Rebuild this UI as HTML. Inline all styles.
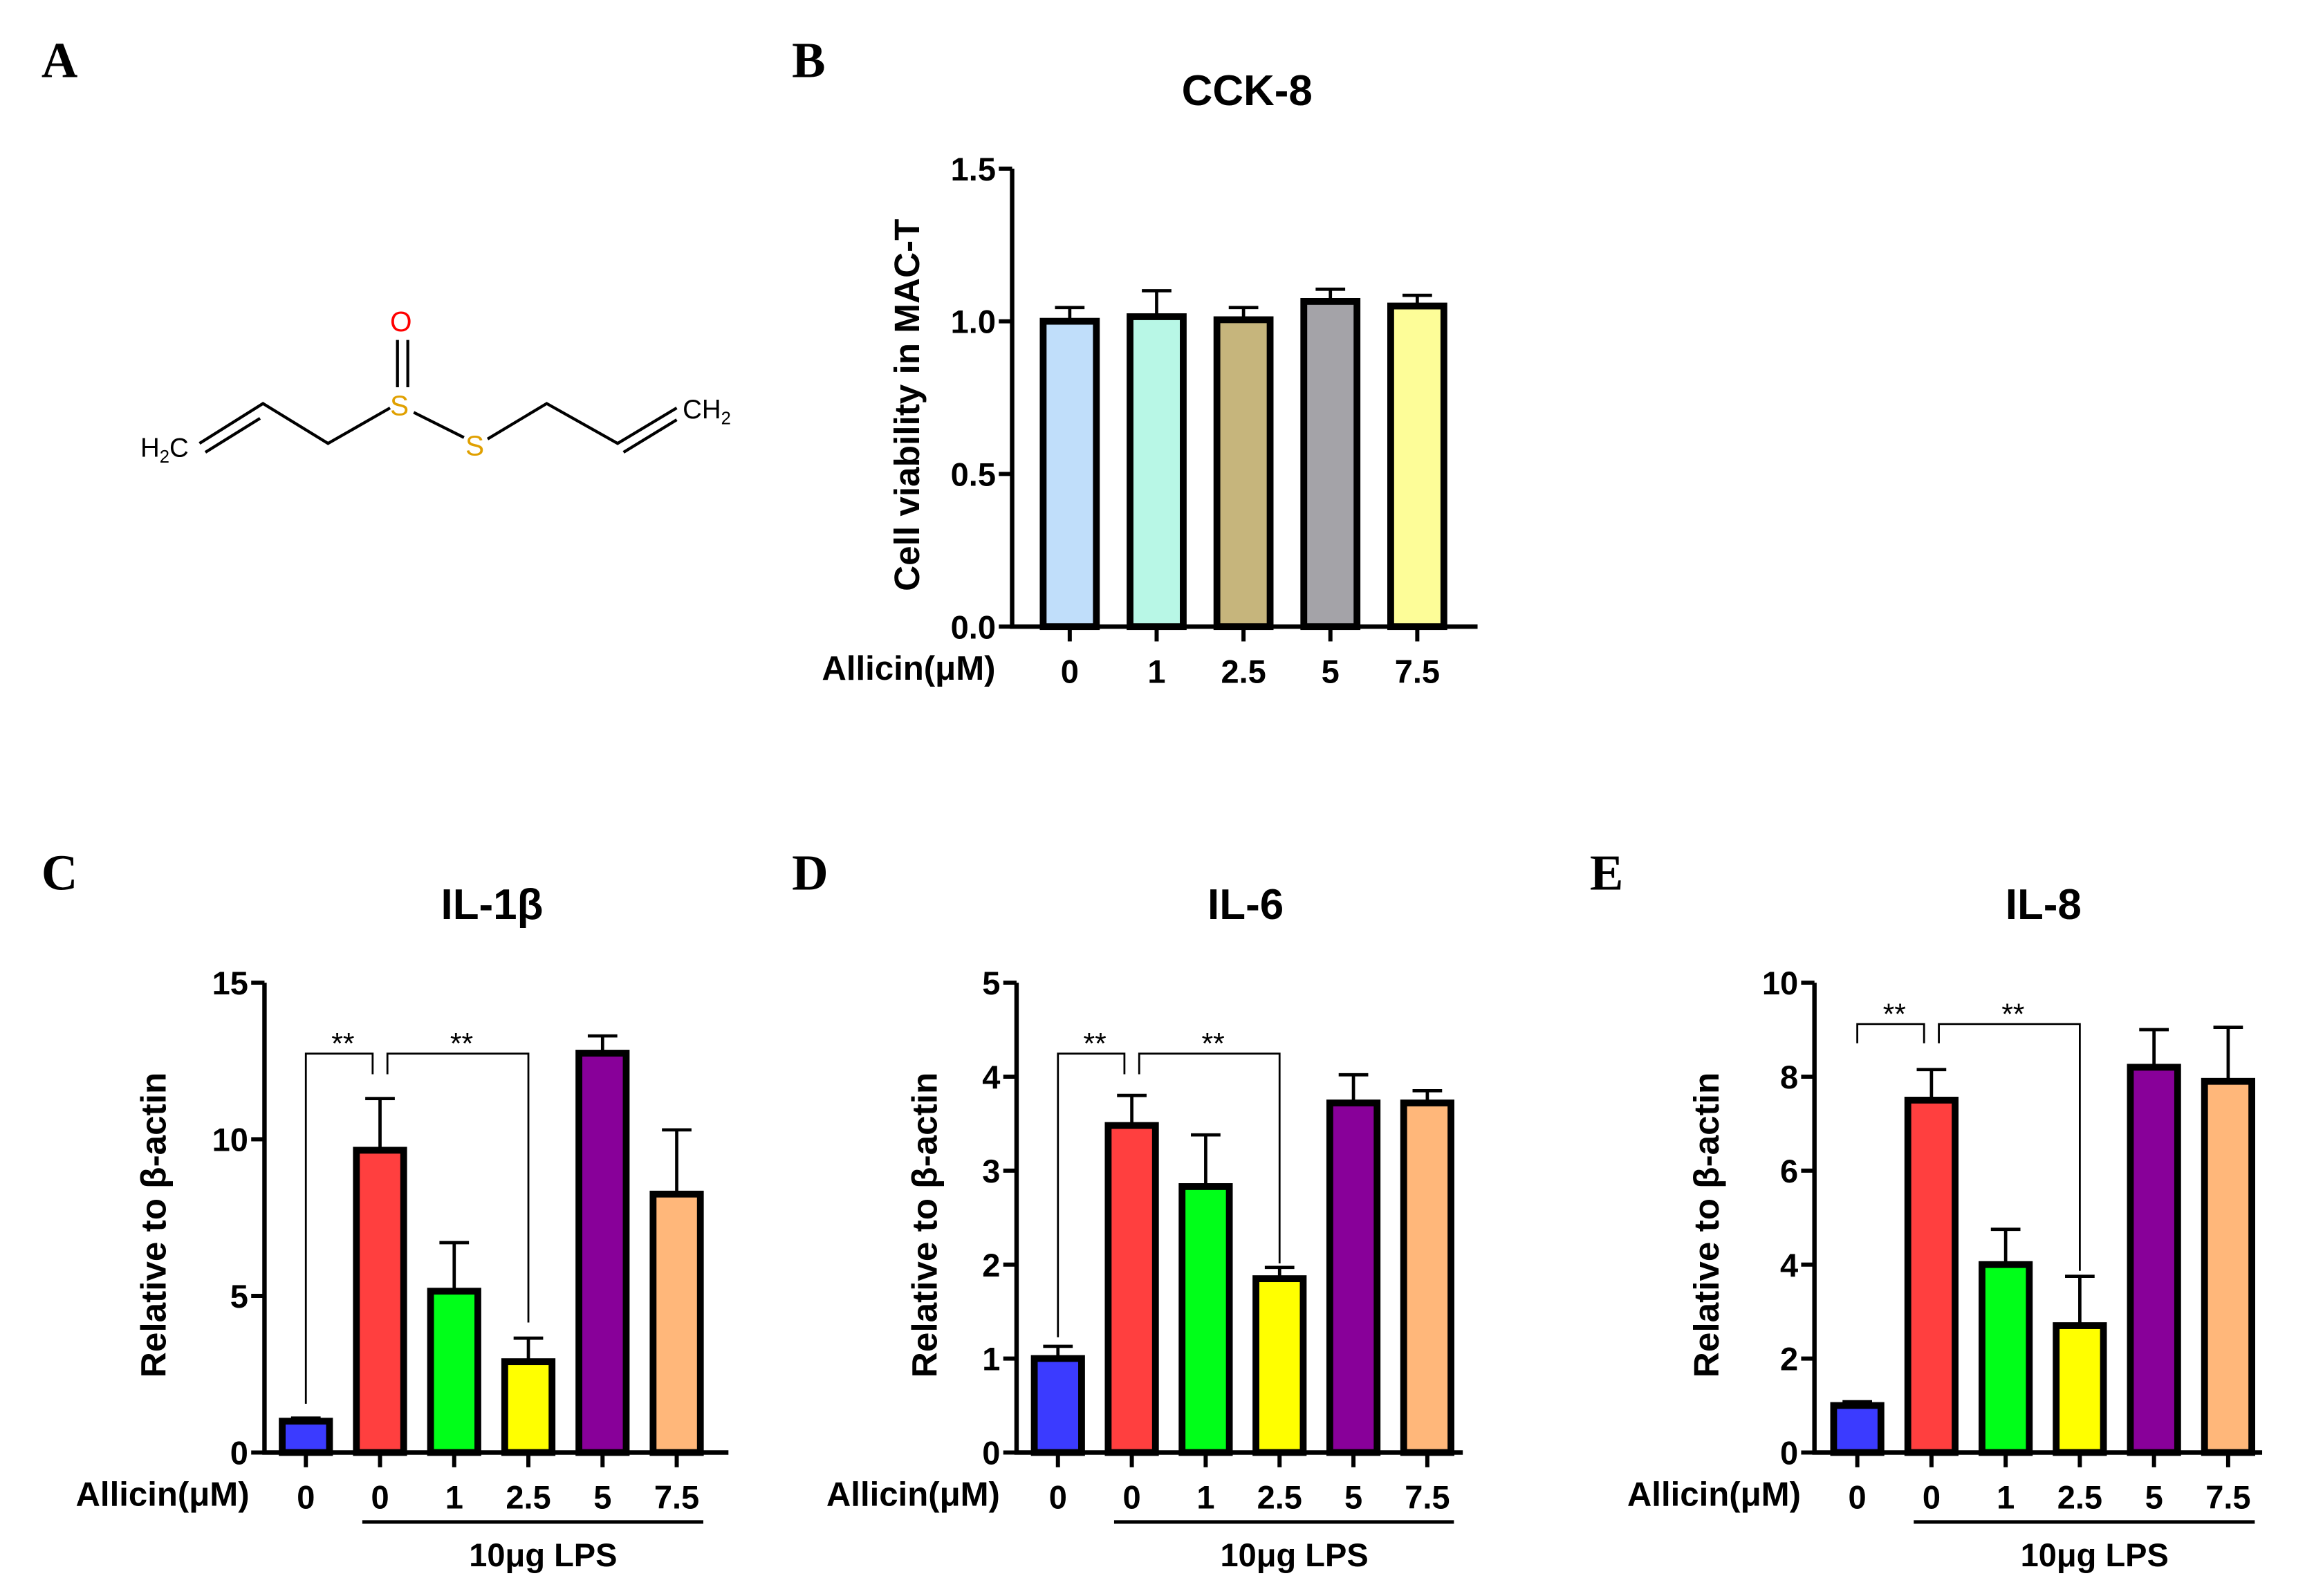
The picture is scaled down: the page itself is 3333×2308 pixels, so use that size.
<!DOCTYPE html>
<html><head><meta charset="utf-8">
<style>
html,body{margin:0;padding:0;background:#fff;}
svg{display:block;}
text{font-family:"Liberation Sans",Arial,sans-serif;font-weight:bold;fill:#000;}
.lbl{font-family:"Liberation Serif",serif;font-size:34px;}
</style></head>
<body>
<svg id="fig" width="3333" height="2308" viewBox="0 0 1560 1080" xmlns="http://www.w3.org/2000/svg">
<text class="lbl" x="28" y="52">A</text>
<text class="lbl" x="536" y="52">B</text>
<text class="lbl" x="28" y="602">C</text>
<text class="lbl" x="536" y="602">D</text>
<text class="lbl" x="1076" y="602">E</text>
<g id="molecule" stroke="#000" stroke-width="2" fill="none">
  <polyline points="135,300 178,273 222,300 264,276"/>
  <line x1="139" y1="306" x2="176" y2="283"/>
  <line x1="280" y1="279" x2="314" y2="296"/>
  <polyline points="330,297 370,273 418,300 458,276"/>
  <line x1="422" y1="306" x2="458" y2="284"/>
  <line x1="269" y1="230" x2="269" y2="262"/>
  <line x1="276" y1="230" x2="276" y2="262"/>
</g>
<text x="95" y="309" style="font-weight:normal;font-size:18px">H<tspan font-size="12" dy="4">2</tspan><tspan dy="-4">C</tspan></text>
<text x="264" y="281" style="font-weight:normal;font-size:19px;fill:#e0a000">S</text>
<text x="315" y="308" style="font-weight:normal;font-size:19px;fill:#e0a000">S</text>
<text x="264" y="224" style="font-weight:normal;font-size:19px;fill:#ff0000">O</text>
<text x="462" y="283" style="font-weight:normal;font-size:18px">CH<tspan font-size="12" dy="4">2</tspan></text>
</svg>
<script>
// Panel B: CCK-8
const bCategories = ["0","1","2.5","5","7.5"];
const bValues = [1.0, 1.015, 1.005, 1.065, 1.05];
const bErrors = [1.045, 1.10, 1.045, 1.105, 1.085];
const bTicks = [0, 0.5, 1.0, 1.5];
const bTickLabels = ["0.0","0.5","1.0","1.5"];
const bColors = ["#c0defa","#b8f7e6","#c6b57c","#a4a3a8","#fdfd98"];
// Panel C: IL-1β
const cCategories = ["0","0","1","2.5","5","7.5"];
const cValues = [1.0, 9.65, 5.15, 2.9, 12.75, 8.25];
const cErrors = [1.1, 11.3, 6.7, 3.65, 13.3, 10.3];
const cTicks = [0,5,10,15];
const cTickLabels = ["0","5","10","15"];
// Panel D: IL-6
const dCategories = ["0","0","1","2.5","5","7.5"];
const dValues = [1.0, 3.48, 2.83, 1.85, 3.72, 3.72];
const dErrors = [1.13, 3.8, 3.38, 1.97, 4.02, 3.85];
const dTicks = [0,1,2,3,4,5];
const dTickLabels = ["0","1","2","3","4","5"];
// Panel E: IL-8
const eCategories = ["0","0","1","2.5","5","7.5"];
const eValues = [1.0, 7.5, 4.0, 2.7, 8.2, 7.9];
const eErrors = [1.08, 8.15, 4.75, 3.75, 9.0, 9.05];
const eTicks = [0,2,4,6,8,10];
const eTickLabels = ["0","2","4","6","8","10"];
const lpsColors = ["#3b3bff","#ff3f3f","#00ff19","#ffff00","#880099","#ffb77a"];

const NS="http://www.w3.org/2000/svg";
const svg=document.getElementById('fig');
function mk(tag,attrs,parent,txt){const e=document.createElementNS(NS,tag);for(const k in attrs)e.setAttribute(k,attrs[k]);if(txt!==undefined)e.textContent=txt;(parent||svg).appendChild(e);return e;}

function panel(o){
  const g=mk('g',{});
  
  
  const yMax=o.ticks[o.ticks.length-1];
  const y=v=>o.y0-(v/yMax)*(o.y0-o.y1);
  const x=i=>o.x0+i*o.step;
  const t=mk('text',{x:o.titleX,y:o.y1-43,'text-anchor':'middle','font-size':29},g,o.title);
  
  
  o.values.forEach((v,i)=>{
    const cx=x(i);
    const r=mk('rect',{x:cx-o.bw/2,y:y(v),width:o.bw,height:o.y0-y(v),fill:o.colors[i],stroke:'#000','stroke-width':4.6},g);
    
    
    const eb=mk('path',{d:`M${cx},${y(v)}V${y(o.errors[i])}M${cx-10},${y(o.errors[i])}H${cx+10}`,stroke:'#000','stroke-width':2.2,fill:'none'},g);
    
    
    mk('line',{x1:cx,x2:cx,y1:o.y0,y2:o.y0+10,stroke:'#000','stroke-width':2.8},g);
    const tl=mk('text',{x:cx,y:o.y0+38,'text-anchor':'middle','font-size':22},g,o.cats[i]);
    
    
  });
  const ax=mk('path',{d:`M${o.ax},${o.y1}V${o.y0}H${o.xEnd}`,stroke:'#000','stroke-width':3,fill:'none'},g);
  
  
  o.ticks.forEach((tv,i)=>{
    mk('line',{x1:o.ax-9,x2:o.ax,y1:y(tv),y2:y(tv),stroke:'#000','stroke-width':2.8},g);
    const yl=mk('text',{x:o.ax-11,y:y(tv)+8,'text-anchor':'end','font-size':22},g,o.tickLabels[i]);
    
    
  });
  const yt=mk('text',{x:0,y:0,'text-anchor':'middle','font-size':24,transform:`translate(${o.ylx},${(o.y0+o.y1)/2+5}) rotate(-90)`},g,o.ylabel);
  
  
  const al=mk('text',{x:o.allX,y:o.y0+36,'text-anchor':'middle','font-size':23},g,'Allicin(μM)');
  
  
  if(o.lps){
    const ul=mk('line',{x1:x(1)-12,x2:x(5)+18,y1:o.y0+47,y2:o.y0+47,stroke:'#000','stroke-width':2.4},g);
    
    
    const lt=mk('text',{x:(x(1)+x(5))/2+10,y:o.y0+77,'text-anchor':'middle','font-size':22},g,'10μg LPS');
    
    
    const s=o.sig;
    const b1=mk('path',{d:`M${x(0)},${s.l1}V${s.top1}H${x(1)-5}V${s.r1}`,stroke:'#000','stroke-width':1.3,fill:'none'},g);
    
    
    const b2=mk('path',{d:`M${x(1)+5},${s.l2}V${s.top2}H${x(3)}V${s.r2}`,stroke:'#000','stroke-width':1.3,fill:'none'},g);
    
    
    const s1=mk('text',{x:(x(0)+x(1))/2,y:s.top1,'text-anchor':'middle','font-size':20,style:'font-weight:normal'},g,'**');
    
    
    const s2=mk('text',{x:(x(1)+x(3))/2+5,y:s.top2,'text-anchor':'middle','font-size':20,style:'font-weight:normal'},g,'**');
    
    
  }
}
panel({name:'cck8',title:'CCK-8',titleX:844,x0:724,step:58.8,bw:36,y0:424,y1:114,ax:685,xEnd:1000,ticks:bTicks,tickLabels:bTickLabels,values:bValues,errors:bErrors,cats:bCategories,colors:bColors,ylabel:'Cell viability in MAC-T',ylx:622,allX:615,lps:false});
panel({name:'il1b',title:'IL-1β',titleX:333,x0:207,step:50.2,bw:32,y0:983,y1:665,ax:179,xEnd:493,ticks:cTicks,tickLabels:cTickLabels,values:cValues,errors:cErrors,cats:cCategories,colors:lpsColors,ylabel:'Relative to β-actin',ylx:112,allX:110,lps:true,sig:{top1:713,l1:950,r1:727,top2:713,l2:727,r2:895}});
panel({name:'il6',title:'IL-6',titleX:843,x0:716,step:50,bw:32,y0:983,y1:665,ax:688,xEnd:990,ticks:dTicks,tickLabels:dTickLabels,values:dValues,errors:dErrors,cats:dCategories,colors:lpsColors,ylabel:'Relative to β-actin',ylx:634,allX:618,lps:true,sig:{top1:713,l1:905,r1:727,top2:713,l2:727,r2:855}});
panel({name:'il8',title:'IL-8',titleX:1383,x0:1257,step:50.2,bw:32,y0:983,y1:665,ax:1228,xEnd:1531,ticks:eTicks,tickLabels:eTickLabels,values:eValues,errors:eErrors,cats:eCategories,colors:lpsColors,ylabel:'Relative to β-actin',ylx:1163,allX:1160,lps:true,sig:{top1:693,l1:706,r1:706,top2:693,l2:706,r2:860}});
</script>
</body></html>
